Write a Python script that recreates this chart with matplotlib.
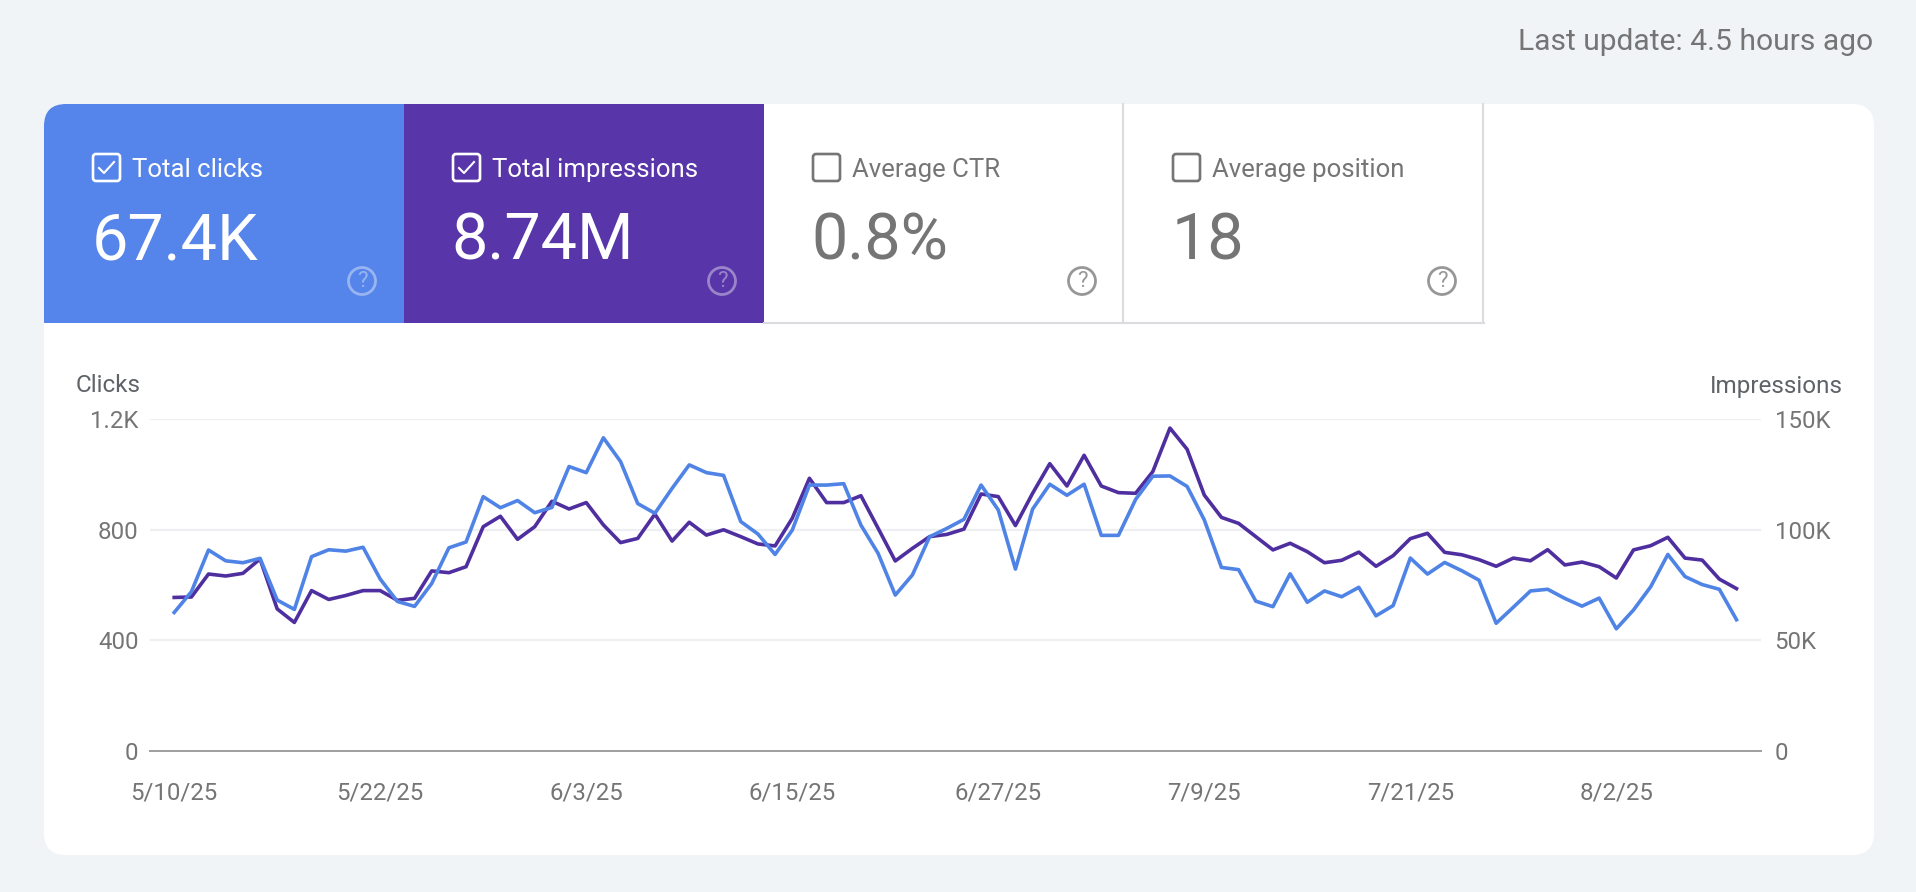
import matplotlib
matplotlib.use("Agg")
import matplotlib.pyplot as plt
from matplotlib.patches import FancyBboxPatch, Rectangle, Circle
import numpy as np

plt.rcParams['font.family'] = ['Roboto', 'DejaVu Sans']

# valeurs
clicks = [500, 575, 726, 687, 680, 696, 545, 511, 702, 727, 722, 736, 621, 540, 522, 605,
          734, 755, 919, 879, 905, 861, 880, 1028, 1006, 1132, 1046, 894, 859, 949, 1034, 1006,
          996, 829, 784, 710, 798, 961, 961, 966, 816, 714, 563, 636, 774, 804, 837, 961,
          871, 657, 874, 964, 924, 964, 779, 779, 909, 993, 994, 956, 835, 663, 655, 541,
          521, 640, 537, 578, 557, 591, 488, 525, 697, 639, 681, 651, 617, 461, 519, 578,
          584, 551, 523, 552, 441, 509, 593, 710, 630, 601, 584, 474]
impressions = [69300, 69500, 79900, 79000, 80200, 86700, 64100, 58000, 72400, 68400, 70200, 72400,
               72400, 68000, 68900, 81300, 80500, 83200, 101300, 106000, 95600, 101300, 112800, 109300,
               112200, 102100, 94100, 96000, 107000, 94800, 103300, 97500, 99900, 96800, 93500, 92600,
               105100, 123200, 112200, 112200, 115300, 100600, 85800, 91500, 96800, 97800, 100200, 116100,
               114900, 101800, 116400, 129800, 119700, 133600, 119700, 116700, 116400, 126200, 145900, 136300,
               115600, 105500, 102800, 96800, 90800, 93800, 90000, 85000, 86100, 89800, 83400, 88200,
               95900, 98300, 89700, 88600, 86400, 83400, 87100, 85900, 90900, 84000, 85300, 83200,
               78100, 90800, 92700, 96500, 87100, 86200, 77600, 73300]
date_idx = [0, 12, 24, 36, 48, 60, 72, 84]
date_labels = ["5/10/25", "5/22/25", "6/3/25", "6/15/25", "6/27/25", "7/9/25", "7/21/25", "8/2/25"]
left_ticks = [0, 400, 800, 1200]
left_labels = ["0", "400", "800", "1.2K"]
right_ticks = [0, 50000, 100000, 150000]
right_labels = ["0", "50K", "100K", "150K"]

tile_names = ["Total clicks", "Total impressions", "Average CTR", "Average position"]
tile_values = ["67.4K", "8.74M", "0.8%", "18"]

W, H = 1916, 892
BG = "#F0F4F7"
BLUE = "#5584EA"
PURPLE = "#5835A8"
LINE_BLUE = "#4F83E6"
LINE_PURPLE = "#4F2F9F"
GREY = "#757575"

fig = plt.figure(figsize=(W / 100, H / 100), dpi=100, facecolor=BG)

# fond en coordonnees pixels
ui = fig.add_axes([0, 0, 1, 1])
ui.set_xlim(0, W)
ui.set_ylim(H, 0)
ui.axis("off")

card = FancyBboxPatch((44 + 22, 104 + 22), 1830 - 44, 751 - 44, boxstyle="round,pad=22,rounding_size=22",
                      fc="white", ec="none", zorder=1)
ui.add_patch(card)

tile_x = [44, 404, 764, 1124]
tile_w = 360
tile_fill = [BLUE, PURPLE, None, None]

for i in range(4):
    x0 = tile_x[i]
    on = tile_fill[i] is not None
    col = "white" if on else GREY
    if on:
        r = Rectangle((x0, 104), tile_w, 219, fc=tile_fill[i], ec="none", zorder=2)
        ui.add_patch(r)
        r.set_clip_path(card)
    else:
        ui.plot([x0 + tile_w - 0.5] * 2, [104, 323], color="#DADCE0", lw=1.5, zorder=2)
        ui.plot([x0, x0 + tile_w], [322.5, 322.5], color="#DADCE0", lw=1.5, zorder=2)
    # case a cocher
    box = FancyBboxPatch((x0 + 49 + 3, 154 + 3), 21, 21, boxstyle="round,pad=3,rounding_size=3",
                         fc="none", ec=col, lw=1.9, zorder=3)
    ui.add_patch(box)
    if on:
        ui.plot([x0 + 55, x0 + 60, x0 + 70], [168, 173, 162], color="white", lw=1.5, zorder=4)
    ui.text(x0 + 88.5, 170, tile_names[i], color=col, fontsize=18.5, va="center", ha="left", zorder=4)
    ui.text(x0 + 47.5, 260, tile_values[i], color=col, fontsize=46.5, va="baseline", ha="left", zorder=4)
    # icone d'aide
    alpha = 0.4 if on else 0.75
    ui.add_patch(Circle((x0 + 318, 281), 13.5, fc="none", ec=col, lw=2, alpha=alpha, zorder=4))
    ui.text(x0 + 318, 281.5, "?", color=col, alpha=alpha, fontsize=16, ha="center", va="center", zorder=4)

ui.text(1873.5, 42, "Last update: 4.5 hours ago", color=GREY, fontsize=21.6, ha="right", va="center")
ui.text(76, 386, "Clicks", color="#5F6368", fontsize=17.5, ha="left", va="center", zorder=4)
ui.text(1842.5, 386, "Impressions", color="#5F6368", fontsize=17.5, ha="right", va="center", zorder=4)

# graphique : impressions dessous (graduations a droite), clics dessus (graduations a gauche)
x = np.arange(len(clicks))
ax = fig.add_axes([150.4 / W, 1 - 750.7 / H, (1761.4 - 150.4) / W, (750.7 - 419) / H])
ax.patch.set_alpha(0)
ax.plot(x, impressions, color=LINE_PURPLE, lw=2.6)
ax.set_xlim(-1.386, 92.45)
ax.set_ylim(0, 150000)
ax.set_yticks(right_ticks, right_labels)
ax.set_xticks(date_idx, date_labels)
ax.grid(axis="y", color="#EEEFF2", lw=1.6)
ax.set_axisbelow(True)

ax_c = ax.twinx()
ax_c.plot(x, clicks, color=LINE_BLUE, lw=2.6)
ax_c.set_ylim(0, 1200)
ax_c.set_yticks(left_ticks, left_labels)
# twinx remet les graduations de ax a gauche, donc on inverse apres
ax.yaxis.tick_right()
ax_c.yaxis.tick_left()

for a in (ax, ax_c):
    for s in a.spines.values():
        s.set_visible(False)
ax.tick_params(axis="y", length=0, pad=9.5, labelsize=17.3, labelcolor=GREY)
ax_c.tick_params(axis="y", length=0, pad=8.5, labelsize=17.3, labelcolor=GREY)
ax.spines["bottom"].set_visible(True)
ax.spines["bottom"].set_color("#9E9E9E")
ax.spines["bottom"].set_linewidth(1.4)
ax.tick_params(axis="x", length=0, pad=22, labelsize=17.3, labelcolor=GREY)

fig.savefig("out.png", dpi=100, facecolor=BG)
